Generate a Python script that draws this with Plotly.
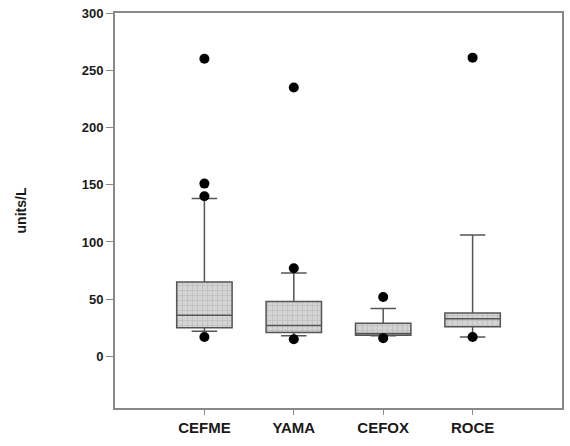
import plotly.graph_objects as go

categories = ["CEFME", "YAMA", "CEFOX", "ROCE"]
q1 = [25, 21, 18.5, 26]
median = [36, 27, 20, 33]
q3 = [65, 48, 29, 38]
lower_whisker = [22, 18, 18, 17]
upper_whisker = [138, 73, 42, 106]
outlier_cat = [0, 0, 0, 0, 1, 1, 1, 2, 2, 3, 3]
outlier_val = [260, 151, 140, 17, 235, 77, 15, 52, 16, 261, 17]
y_ticks = [0, 50, 100, 150, 200, 250, 300]

xpos = list(range(len(categories)))
fig = go.Figure()

# patterned box fill
fig.add_trace(go.Bar(
    x=xpos, base=q1, y=[b - a for a, b in zip(q1, q3)], width=0.62,
    marker=dict(color="#d4d4d4", line=dict(width=0),
                pattern=dict(shape="+", fgcolor="#a0a0a0", bgcolor="#d4d4d4", size=5, solidity=0.25)),
    showlegend=False, hoverinfo="skip"))

for i in xpos:
    fig.add_trace(go.Box(
        x=[i], q1=[q1[i]], median=[median[i]], q3=[q3[i]],
        lowerfence=[lower_whisker[i]], upperfence=[upper_whisker[i]],
        width=0.62, whiskerwidth=0.46,
        fillcolor="rgba(0,0,0,0)", line=dict(color="#555555", width=1.5),
        showlegend=False))

fig.add_trace(go.Scatter(
    x=outlier_cat, y=outlier_val, mode="markers",
    marker=dict(color="black", size=10), showlegend=False))

fig.update_layout(
    width=570, height=446,
    margin=dict(l=115, r=7, t=6, b=38),
    plot_bgcolor="white", paper_bgcolor="white",
    font=dict(family="Liberation Sans, Arial", size=11, color="#1a1a1a"),
    barmode="overlay", boxmode="overlay",
)
fig.update_xaxes(
    range=[-1, 4], tickmode="array", tickvals=xpos, ticktext=categories,
    showline=True, linecolor="#888888", linewidth=2, mirror=True,
    ticks="outside", ticklen=5, tickcolor="#888888", showgrid=False, zeroline=False,
    tickfont=dict(size=15, weight="bold", color="#1a1a1a"))
fig.update_yaxes(
    range=[-45, 300], tickmode="array", tickvals=y_ticks,
    showline=True, linecolor="#888888", linewidth=2, mirror=True,
    ticks="outside", ticklen=7, tickcolor="#888888", showgrid=False, zeroline=False,
    tickfont=dict(size=13, weight="bold", color="#1a1a1a"),
    title=dict(text="<b>units/L</b>", standoff=52, font=dict(size=14)))

fig.write_html("out.html")
